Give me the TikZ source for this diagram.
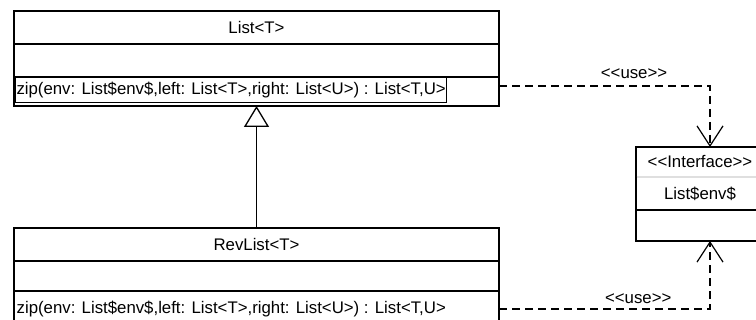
\documentclass[tikz,border=0pt]{standalone}
\usepackage{fontspec}
\setmainfont[Ligatures=TeXOff]{Liberation Sans}
\usetikzlibrary{arrows.meta}
\begin{document}
\begin{tikzpicture}[x=1pt, y=-1pt, line width=1.3pt,
    font=\fontsize{16.8}{19}\selectfont,
    row/.style={draw, anchor=north west, inner sep=0pt, outer sep=0pt, minimum width=485pt, minimum height=#1},
    ifrow/.style={draw, anchor=north west, inner sep=0pt, outer sep=0pt, minimum width=128pt, minimum height=#1},
    dep/.style={dash pattern=on 8pt off 5pt, -{Straight Barb[length=20pt, width=26pt, line width=1.2pt]}},
    gen/.style={-{Triangle[open, length=21pt, width=25pt, fill=white]}}]
\useasboundingbox (0,0) rectangle (756,320);
% List<T>
\node[row=33pt] (listname) at (14,11) {List<T>};
\node[row=33pt] (listattr) at (listname.south west) {};
\node[row=29pt] (listops) at (listattr.south west) {};
\node[draw, anchor=west, inner sep=1pt, minimum height=25pt, line width=1pt]
    (listzip) at ([shift={(1,-1)}]listops.west)
    {zip(env: List\$env\$,left: List<T>,right: List<U>) : List<T,U>\hspace{11pt}};
% RevList<T>
\node[row=33pt] (revname) at (14,228) {RevList<T>};
\node[row=30pt] (revattr) at (revname.south west) {};
\node[row=36pt] (revops) at (revattr.south west) {};
\node[anchor=west, inner sep=1pt] (revzip) at ([xshift=1pt]revops.west)
    {zip(env: List\$env\$,left: List<T>,right: List<U>) : List<T,U>};
% interface
\node[ifrow=30pt] (ifstereo) at (636,147) {<<Interface>>};
\node[ifrow=33pt] (ifname) at (ifstereo.south west) {List\$env\$};
\node[ifrow=31pt] (ifattr) at (ifname.south west) {};
\draw[gray!25] ([xshift=.65pt]ifstereo.south west) -- (ifstereo.south east);

\draw[gen] (revname.north) -- (listops.south);
\draw[dep] ([yshift=5.5pt]listops.east) -| node[pos=.32, above=3pt]{<<use>>} ([xshift=10pt]ifstereo.north);
\draw[dep] (revops.east) -| node[pos=.33, above=1pt]{<<use>>} ([xshift=10pt]ifattr.south);
\end{tikzpicture}
\end{document}
